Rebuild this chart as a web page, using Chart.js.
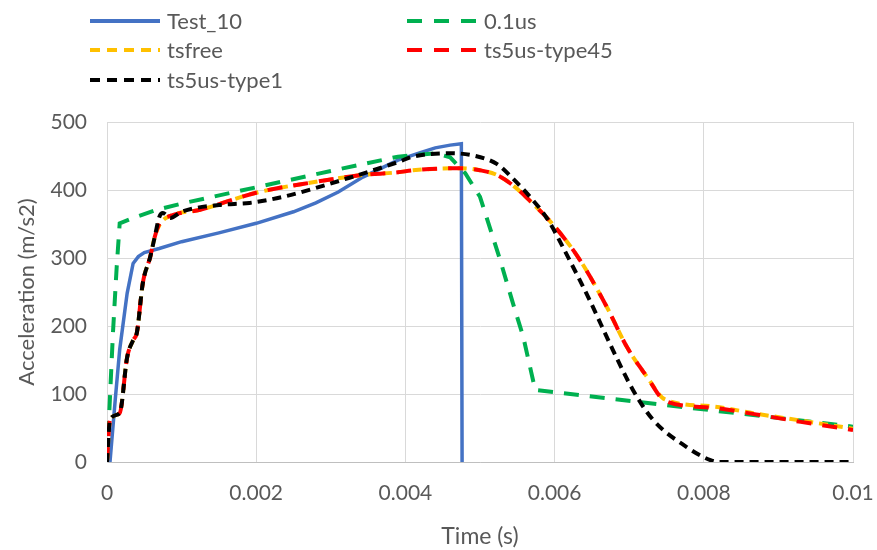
<!DOCTYPE html>
<html>
<head>
<meta charset="utf-8">
<script src="https://cdn.jsdelivr.net/npm/chart.js@4"></script>
<style>
  html, body { margin: 0; padding: 0; background: #fff; }
  #wrap { width: 877px; height: 550px; position: relative; }
</style>
</head>
<body>
<div id="wrap"><canvas id="accChart"></canvas></div>
<script>
// time (s) / acceleration (m/s2)
const test10T = [0, 0.00004, 0.00011, 0.00017, 0.00027, 0.00035, 0.00042, 0.0005, 0.0007, 0.001, 0.0015, 0.002, 0.0025, 0.0028, 0.0031, 0.00343, 0.0039, 0.0042, 0.0044, 0.0046, 0.00475, 0.00476];
const test10A = [null, 0, 91, 165, 248, 292, 302, 308, 314, 324, 337, 351, 368, 381, 397, 419, 444, 455, 462, 466, 468, 0];

const us01T = [0, 0.00003, 0.00008, 0.00013, 0.00017, 0.00035, 0.00067, 0.001, 0.002, 0.003, 0.0039, 0.0044, 0.0046, 0.0048, 0.005, 0.00527, 0.00544, 0.00558, 0.00574, 0.01];
const us01A = [0, 72, 190, 287, 351, 359, 371, 380, 404, 428, 449, 454, 448, 425, 390, 297, 234, 184, 106, 52];

const tsfreeT = [0, 0.00004, 0.00017, 0.00027, 0.00035, 0.0004, 0.00048, 0.00058, 0.00064, 0.00071, 0.00085, 0.00125, 0.002, 0.0028, 0.00342, 0.0039, 0.0041, 0.00473, 0.005, 0.00523, 0.00544, 0.00567, 0.00598, 0.00634, 0.0067, 0.00697, 0.00724, 0.00748, 0.0081, 0.0087, 0.0093, 0.01];
const tsfreeA = [0, 62, 72, 154, 179, 190, 263, 302, 331, 350, 362, 371, 396, 412, 422, 426, 429, 432, 429, 422, 407, 384, 349, 297, 228, 169, 125, 92, 82, 71, 61, 49];

const type45T = tsfreeT;
const type45A = [0, 62, 72, 154, 179, 190, 263, 302, 331, 352, 362, 371, 396, 412, 422, 426, 429, 432, 429, 422, 407, 384, 349, 297, 228, 169, 125, 90, 80, 70, 59, 47];

const type1T = [0, 0.00004, 0.00017, 0.00027, 0.00035, 0.0004, 0.00048, 0.00058, 0.00064, 0.0007, 0.00075, 0.00085, 0.001, 0.0015, 0.00191, 0.00236, 0.0028, 0.00325, 0.00371, 0.0039, 0.0041, 0.0046, 0.0049, 0.00523, 0.00544, 0.00567, 0.0059, 0.0062, 0.00647, 0.00678, 0.00705, 0.00732, 0.00777, 0.00808, 0.0082, 0.01];
const type1A = [0, 62, 72, 154, 179, 190, 263, 302, 331, 360, 366, 359, 368, 378, 381, 390, 403, 418, 434, 441, 449, 454, 451, 438, 417, 390, 358, 297, 238, 165, 106, 62, 22, 3, 0, 0];

const xTickLabels = ['0', '0.002', '0.004', '0.006', '0.008', '0.01'];

function pts(ts, as) {
  return ts.map((t, i) => ({ x: t, y: as[i] })).filter(p => p.y !== null);
}

const FONT = 'Lato, "Open Sans", sans-serif';
const GREY = '#595959';

// two-column legend like the original (dash patterns a bit longer there)
const legendDash = [[], [15, 12], [10, 7], [15, 12], [10, 7]];
const legendPlugin = {
  id: 'twoColLegend',
  afterDraw(chart) {
    const ctx = chart.ctx;
    const cols = [90, 407];
    const rows = [21, 50, 80];
    ctx.save();
    ctx.font = '22px ' + FONT;
    ctx.textBaseline = 'middle';
    ctx.fillStyle = GREY;
    chart.data.datasets.forEach((ds, i) => {
      const x = cols[i % 2];
      const y = rows[Math.floor(i / 2)];
      ctx.beginPath();
      ctx.strokeStyle = ds.borderColor;
      ctx.lineWidth = 4;
      ctx.setLineDash(legendDash[i]);
      ctx.moveTo(x, y);
      ctx.lineTo(x + 70, y);
      ctx.stroke();
      ctx.setLineDash([]);
      ctx.fillText(ds.label, x + 77, y + 1);
    });
    ctx.restore();
  }
};

const ctx = document.getElementById('accChart').getContext('2d');

const chart = new Chart(ctx, {
  type: 'line',
  data: {
    datasets: [
      {
        label: 'Test_10',
        data: pts(test10T, test10A),
        borderColor: '#4472C4',
        borderWidth: 3.5,
        order: 4
      },
      {
        label: '0.1us',
        data: pts(us01T, us01A),
        borderColor: '#00B050',
        borderWidth: 4,
        borderDash: [15, 11],
        order: 3
      },
      {
        label: 'tsfree',
        data: pts(tsfreeT, tsfreeA),
        borderColor: '#FFC000',
        borderWidth: 4,
        borderDash: [9, 6],
        cubicInterpolationMode: 'monotone',
        order: 2
      },
      {
        label: 'ts5us-type45',
        data: pts(type45T, type45A),
        borderColor: '#FF0000',
        borderWidth: 4,
        borderDash: [15, 11],
        cubicInterpolationMode: 'monotone',
        order: 1
      },
      {
        label: 'ts5us-type1',
        data: pts(type1T, type1A),
        borderColor: '#000000',
        borderWidth: 4,
        borderDash: [9, 6],
        cubicInterpolationMode: 'monotone',
        order: 0
      }
    ]
  },
  options: {
    responsive: true,
    maintainAspectRatio: false,
    animation: false,
    layout: { padding: { top: 122, right: 24, left: 0, bottom: 0 } },
    elements: { point: { radius: 0 }, line: { fill: false, tension: 0 } },
    plugins: {
      legend: { display: false },
      tooltip: { enabled: false }
    },
    scales: {
      x: {
        type: 'linear',
        min: 0,
        max: 0.01,
        ticks: {
          stepSize: 0.002,
          color: GREY,
          font: { family: FONT, size: 21 },
          padding: 19,
          maxRotation: 0,
          callback: (v, i) => xTickLabels[i]
        },
        grid: { color: '#d9d9d9', drawTicks: false },
        border: { color: '#bfbfbf' },
        title: {
          display: true,
          text: 'Time (s)',
          color: GREY,
          font: { family: FONT, size: 23 },
          padding: { top: 16, bottom: 0 }
        },
        afterFit(scale) {
          scale.height = 88;
          scale.paddingLeft = 0;
          scale.paddingRight = 0;
        }
      },
      y: {
        min: 0,
        max: 500,
        ticks: {
          stepSize: 100,
          color: GREY,
          font: { family: FONT, size: 21 },
          padding: 20
        },
        grid: { color: '#d9d9d9', drawTicks: false },
        border: { color: '#d9d9d9' },
        title: {
          display: true,
          text: 'Acceleration (m/s2)',
          color: GREY,
          font: { family: FONT, size: 22 },
          padding: { top: 14, bottom: 0 }
        },
        afterFit(scale) {
          scale.width = 107;
          scale.paddingTop = 0;
          scale.paddingBottom = 0;
        }
      }
    }
  },
  plugins: [legendPlugin]
});
</script>
</body>
</html>
